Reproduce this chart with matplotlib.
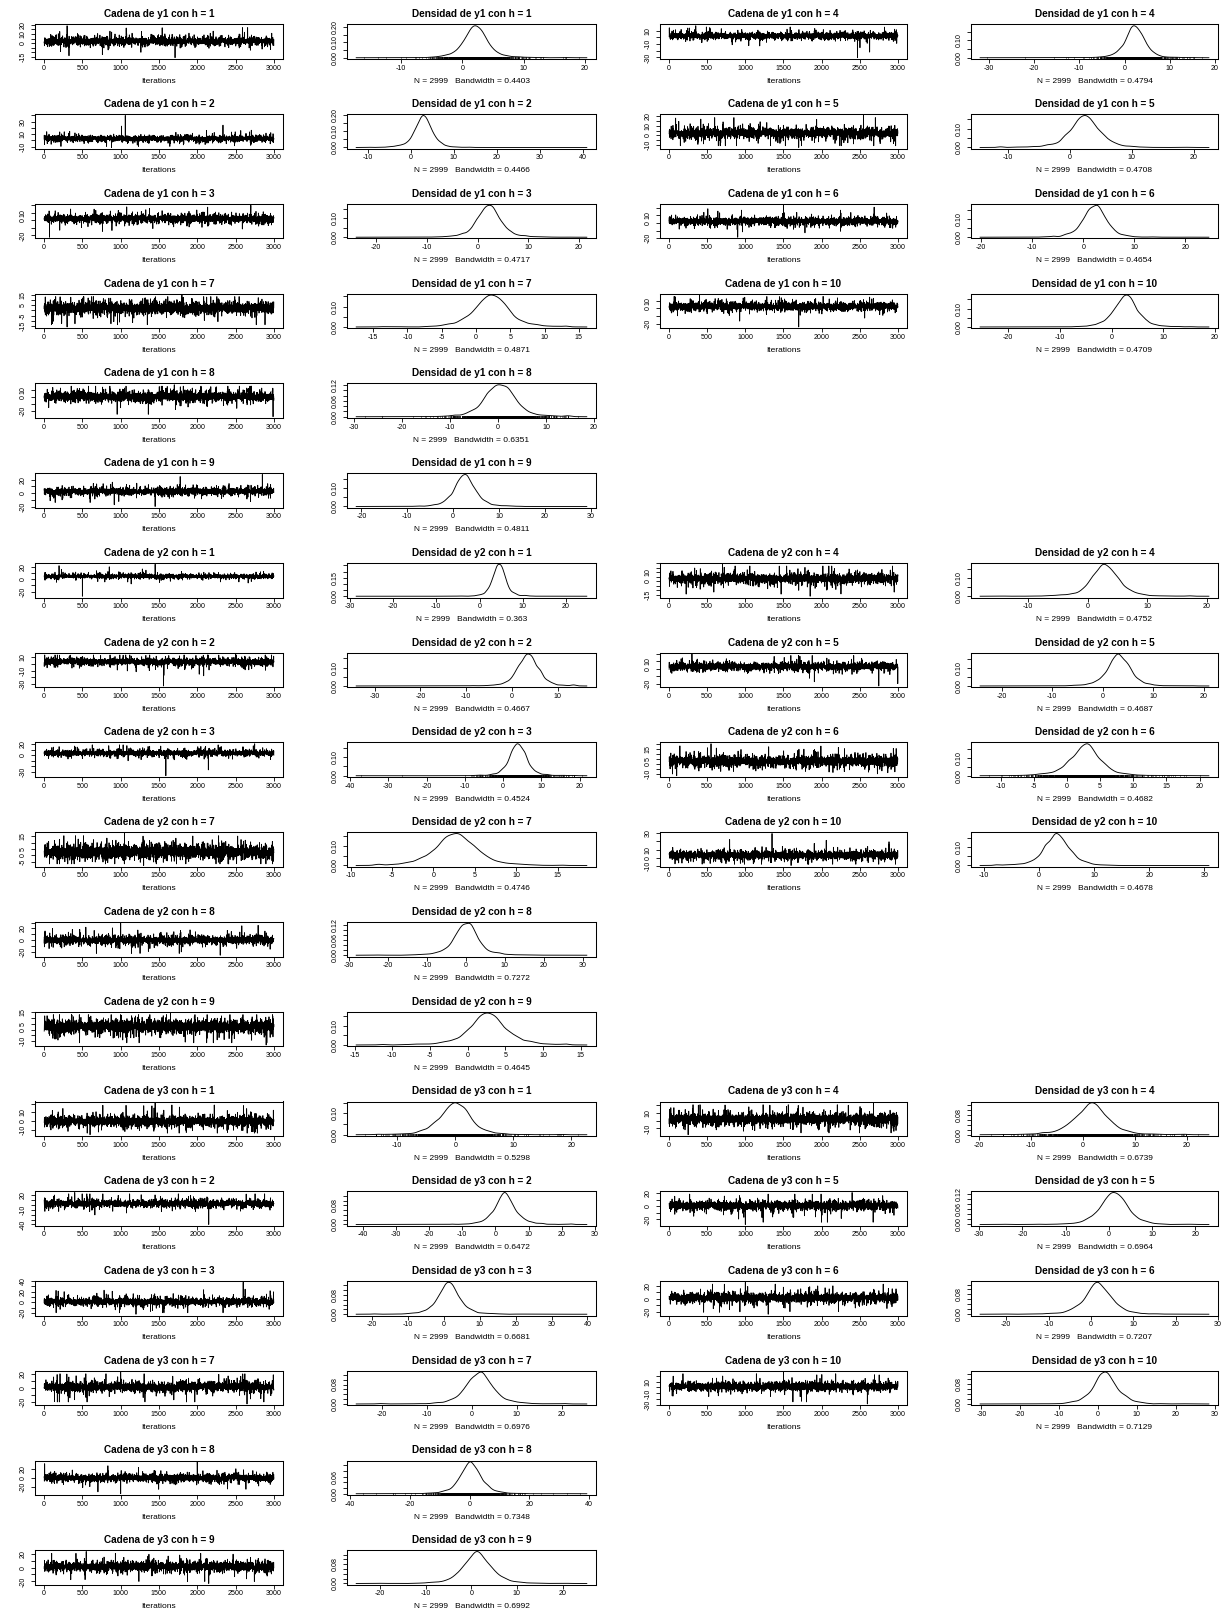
import numpy as np
import matplotlib
matplotlib.use("Agg")
import matplotlib.pyplot as plt

plt.rcParams['font.family'] = ['Liberation Sans', 'DejaVu Sans']
plt.rcParams['axes.unicode_minus'] = False

# ---------------- data ----------------
VARIABLES = ["y1", "y2", "y3"]
H_VALUES = [1, 2, 3, 4, 5, 6, 7, 8, 9, 10]
N_ITER = 3000

BANDWIDTH_Y1 = [0.4403, 0.4466, 0.4717, 0.4794, 0.4708, 0.4654, 0.4871, 0.6351, 0.4811, 0.4709]
BANDWIDTH_Y2 = [0.363, 0.4667, 0.4524, 0.4752, 0.4687, 0.4682, 0.4746, 0.7272, 0.4645, 0.4678]
BANDWIDTH_Y3 = [0.5298, 0.6472, 0.6681, 0.6739, 0.6964, 0.7207, 0.6976, 0.7348, 0.6992, 0.7129]

MODE_Y1 = [2.2, 2.9, 2.2, 2.3, 2.5, 2.2, 2.1, 0.4, 2.5, 2.8]
MODE_Y2 = [4.5, 3.5, 3.9, 3.0, 3.2, 2.8, 2.7, 0.0, 2.7, 3.3]
MODE_Y3 = [0.0, 2.8, 1.4, 1.6, 1.2, 1.7, 1.6, 0.3, 1.3, 1.75]

PEAK_Y1 = [0.21, 0.19, 0.17, 0.18, 0.16, 0.17, 0.16, 0.125, 0.17, 0.17]
PEAK_Y2 = [0.25, 0.17, 0.17, 0.17, 0.17, 0.17, 0.16, 0.125, 0.16, 0.17]
PEAK_Y3 = [0.15, 0.125, 0.125, 0.125, 0.125, 0.125, 0.125, 0.11, 0.125, 0.125]

MIN_Y1 = [-16, -11.4, -22.5, -30.5, -13, -18.8, -16, -27.7, -19.7, -24]
MAX_Y1 = [19, 39.6, 20.1, 17.2, 21, 23.2, 14.7, 16.6, 27.7, 17.4]
MIN_Y2 = [-27.4, -32.6, -37, -16.6, -22.9, -11.7, -7.9, -26, -13.4, -9.3]
MAX_Y2 = [23.7, 14.9, 20.5, 18.9, 19.6, 20, 17.1, 28.9, 14.4, 29.4]
MIN_Y3 = [-15.5, -40, -22.3, -17.8, -27.7, -24, -23.6, -35.8, -23.1, -28.2]
MAX_Y3 = [21.1, 25.6, 37.8, 22.2, 21, 25.7, 23.4, 37, 23.2, 26.4]

MIN_ITER_Y1 = [1710, 880, 70, 2470, 1700, 900, 300, 2990, 1450, 1700]
MAX_ITER_Y1 = [300, 1060, 2700, 350, 2550, 1500, 1800, 1700, 2850, 400]
MIN_ITER_Y2 = [500, 1560, 1590, 1850, 2750, 100, 1300, 2300, 2900, 1600]
MAX_ITER_Y2 = [1450, 2500, 2750, 700, 300, 550, 1050, 1000, 1650, 1350]
MIN_ITER_Y3 = [600, 2150, 1200, 250, 1000, 1300, 2650, 1000, 2150, 2600]
MAX_ITER_Y3 = [1450, 400, 2600, 2680, 2400, 1000, 1000, 2000, 550, 1500]

BANDWIDTH = {"y1": BANDWIDTH_Y1, "y2": BANDWIDTH_Y2, "y3": BANDWIDTH_Y3}
MODE = {"y1": MODE_Y1, "y2": MODE_Y2, "y3": MODE_Y3}
PEAK = {"y1": PEAK_Y1, "y2": PEAK_Y2, "y3": PEAK_Y3}
DMIN = {"y1": MIN_Y1, "y2": MIN_Y2, "y3": MIN_Y3}
DMAX = {"y1": MAX_Y1, "y2": MAX_Y2, "y3": MAX_Y3}
IMIN = {"y1": MIN_ITER_Y1, "y2": MIN_ITER_Y2, "y3": MIN_ITER_Y3}
IMAX = {"y1": MAX_ITER_Y1, "y2": MAX_ITER_Y2, "y3": MAX_ITER_Y3}

# ---------------- layout ----------------
FIG_W, FIG_H = 1225, 1610
COL_X = [(35, 283), (347, 596), (660, 907), (971, 1218)]
ROW_TOP0, ROW_PITCH, BOX_H = 24.5, 89.75, 34.5
TICK_FS, LAB_FS, TITLE_FS = 5.1, 6.0, 7.2
GAP_PX = 1.0

rng = np.random.default_rng(12345)


def rect(col, row):
    x0, x1 = COL_X[col]
    top = ROW_TOP0 + row * ROW_PITCH
    return [x0 / FIG_W, 1 - (top + BOX_H) / FIG_H, (x1 - x0) / FIG_W, BOX_H / FIG_H]


def r_pretty(lo, hi, n=5):
    """R's axis pretty (GEPretty: high.u.bias .8, 1.7) -> inner ticks."""
    cell = (hi - lo) / n
    U = 10 ** np.floor(np.log10(cell))
    unit = U
    h, h5 = 0.8, 1.7
    if 2 * U - cell < h * (cell - unit):
        unit = 2 * U
        if 5 * U - cell < h5 * (cell - unit):
            unit = 5 * U
            if 10 * U - cell < h * (cell - unit):
                unit = 10 * U
    ns = np.ceil(lo / unit - 1e-7)
    nu = np.floor(hi / unit + 1e-7)
    return np.arange(ns, nu + 1) * unit, unit


def fmt_ticks(ticks, unit):
    dec = max(0, int(-np.floor(np.log10(unit) + 1e-9)))
    out = []
    for t in ticks:
        if dec == 0:
            out.append(str(int(round(t))))
        else:
            s = f"{t:.{dec}f}"
            if s.startswith("-") and float(s) == 0:
                s = s[1:]
            out.append(s)
    return out


def ext(lo, hi):
    d = hi - lo
    return lo - 0.04 * d, hi + 0.04 * d


def style(ax):
    for s in ax.spines.values():
        s.set_linewidth(0.75)
    ax.tick_params(direction='out', length=2.8, width=0.6, labelsize=TICK_FS)
    ax.tick_params(axis='x', pad=1.2)
    ax.tick_params(axis='y', pad=3.4)


def set_axis_ticks(ax):
    xl = ax.get_xlim()
    yl = ax.get_ylim()
    xt, xu = r_pretty(*xl)
    yt, yu = r_pretty(*yl)
    ax.set_xticks(xt, fmt_ticks(xt, xu))
    ax.set_yticks(yt, fmt_ticks(yt, yu), rotation=90, va='center')
    ax.set_xlim(xl)
    ax.set_ylim(yl)


def make_chain(mode, peak, lo, hi, i_lo, i_hi):
    s = 0.36 / peak
    x = mode + s * rng.standard_t(4, N_ITER)
    x = np.clip(x, lo + 0.12 * (mode - lo), hi - 0.12 * (hi - mode))
    x[i_lo - 1] = lo
    x[i_hi - 1] = hi
    return x


def slot(var_idx, h):
    base = var_idx * 6
    if h in (1, 2, 3):
        return base + h - 1, 0
    if h in (7, 8, 9):
        return base + 3 + (h - 7), 0
    if h in (4, 5, 6):
        return base + (h - 4), 1
    return base + 3, 1


fig = plt.figure(figsize=(FIG_W / 100, FIG_H / 100), dpi=100)
all_axes = []

for vi, var in enumerate(VARIABLES):
    for k, h in enumerate(H_VALUES):
        row, pair = slot(vi, h)
        chain = make_chain(MODE[var][k], PEAK[var][k], DMIN[var][k], DMAX[var][k],
                           IMIN[var][k], IMAX[var][k])
        iters = np.arange(1, N_ITER + 1)

        # ---- trace ----
        ax = fig.add_axes(rect(2 * pair, row))
        ax.plot(iters, chain, color='black', lw=0.6)
        ax.set_xlim(ext(iters.min(), iters.max()))
        ax.set_ylim(ext(chain.min(), chain.max()))
        style(ax)
        set_axis_ticks(ax)
        ax.set_title(f"Cadena de {var} con h = {h}", fontsize=TITLE_FS,
                     fontweight='bold', pad=5.2)
        ax.annotate("Iterations", xy=(0.5, 0), xycoords='axes fraction',
                    xytext=(0, -16), textcoords='offset points',
                    ha='center', va='center', fontsize=LAB_FS)
        all_axes.append(ax)

        # ---- density ----
        sample = chain[1:]
        bw = BANDWIDTH[var][k]
        grid = np.linspace(sample.min() - 3 * bw, sample.max() + 3 * bw, 512)
        dens = np.exp(-0.5 * ((grid[:, None] - sample[None, :]) / bw) ** 2).sum(1)
        dens /= (len(sample) * bw * np.sqrt(2 * np.pi))

        ax = fig.add_axes(rect(2 * pair + 1, row))
        ax.plot(grid, dens, color='black', lw=0.65)
        ax.vlines(sample, 0, dens.max() / 100, color='black', lw=0.6)
        ax.set_xlim(ext(grid.min(), grid.max()))
        ax.set_ylim(ext(0, dens.max()))
        style(ax)
        set_axis_ticks(ax)
        ax.set_title(f"Densidad de {var} con h = {h}", fontsize=TITLE_FS,
                     fontweight='bold', pad=5.2)
        ax.annotate(f"N = {len(sample)}   Bandwidth = {bw:.4g}",
                    xy=(0.5, 0), xycoords='axes fraction',
                    xytext=(0, -16), textcoords='offset points',
                    ha='center', va='center', fontsize=LAB_FS)
        all_axes.append(ax)

# ---- R-like skipping of overlapping tick labels ----
fig.canvas.draw()
renderer = fig.canvas.get_renderer()
for ax in all_axes:
    for which in ('x', 'y'):
        axis = ax.xaxis if which == 'x' else ax.yaxis
        ticks = list(axis.get_majorticklocs())
        labs = axis.get_ticklabels()
        texts = [t.get_text() for t in labs]
        order = np.argsort(ticks)
        last_end = -1e9
        keep = [False] * len(ticks)
        for i in order:
            bb = labs[i].get_window_extent(renderer)
            a, b = (bb.x0, bb.x1) if which == 'x' else (bb.y0, bb.y1)
            if a > last_end + GAP_PX:
                keep[i] = True
                last_end = b
        new = [t if kp else "" for t, kp in zip(texts, keep)]
        lim = ax.get_xlim() if which == 'x' else ax.get_ylim()
        if which == 'x':
            ax.set_xticks(ticks, new)
            ax.set_xlim(lim)
        else:
            ax.set_yticks(ticks, new, rotation=90, va='center')
            ax.set_ylim(lim)

fig.savefig("out.png", dpi=100, facecolor='white')
